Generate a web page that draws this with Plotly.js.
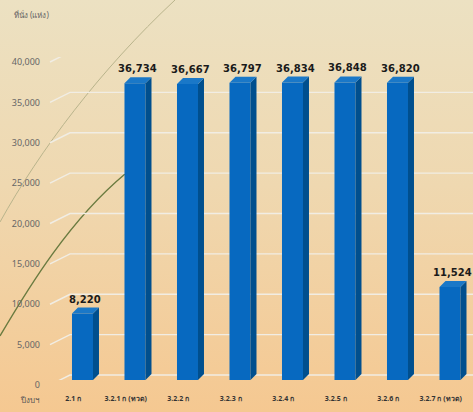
<!DOCTYPE html>
<html><head><meta charset="utf-8">
<script src="https://cdn.plot.ly/plotly-3.0.1.min.js"></script>
<style>
html,body{margin:0;padding:0;width:473px;height:412px;overflow:hidden;}
body{background:linear-gradient(to bottom,#ECE1C2 0%,#EFD8B0 45%,#F5C891 100%);position:relative;font-family:"Noto Sans",sans-serif;}
#deco{position:absolute;left:0;top:0;}
#chart{position:absolute;left:0;top:0;width:473px;height:412px;}
</style></head>
<body>
<svg id="deco" width="473" height="412">
  <path d="M0,222 C40,150 100,70 175,0" fill="none" stroke="#B9B48C" stroke-width="1"/>
  <path d="M0,336 C30,285 70,220 125,174" fill="none" stroke="#6A7B40" stroke-width="1.4"/>
</svg>
<div id="chart"></div>
<script>
// ---- data ----
const categories = ["2.1 ก", "3.2.1 ก (ทวด)", "3.2.2 ก", "3.2.3 ก", "3.2.4 ก", "3.2.5 ก", "3.2.6 ก", "3.2.7 ก (ทวด)"];
const values = [8220, 36734, 36667, 36797, 36834, 36848, 36820, 11524];
const yTicks = [0, 5000, 10000, 15000, 20000, 25000, 30000, 35000, 40000];
const yTitle = "ที่นั่ง (แห่ง)";
const xTitle = "ปีงบฯ";

// ---- styling/geometry ----
const W = 473, H = 412;
const mL = 47, mR = 6, mT = 57, mB = 32;
const plotW = W - mL - mR, plotH = H - mT - mB;
const yMax = 40000;
const catPx = plotW / categories.length;
const barOffset = -0.024, barWidth = 0.4;
const depthX = 6 / catPx;
const depthY = 6 * yMax / plotH;
const backY = 10 * yMax / plotH;
const lblDrop = 5 * yMax / plotH;

const xs = categories.map((c, i) => i);

const bars = {
  type: 'bar', x: xs, y: values, width: barWidth, offset: barOffset,
  marker: {color: '#0769C0', line: {width: 0}}, hoverinfo: 'skip'
};

const shapes = [];
yTicks.forEach(t => {
  shapes.push({
    type: 'path', xref: 'paper', yref: 'y', layer: 'below',
    path: `M ${3/plotW},${t - lblDrop} L ${23/plotW},${t + backY - lblDrop} L 1.02,${t + backY - lblDrop}`,
    line: {color: '#F1EDE4', width: 1.4}
  });
});
values.forEach((v, i) => {
  const xl = i + barOffset, xr = i + barOffset + barWidth;
  shapes.push({
    type: 'path', xref: 'x', yref: 'y', layer: 'above',
    path: `M ${xr},0 L ${xr+depthX},${depthY} L ${xr+depthX},${v+depthY} L ${xr},${v} Z`,
    fillcolor: '#004F8E', line: {width: 0}
  });
  shapes.push({
    type: 'path', xref: 'x', yref: 'y', layer: 'above',
    path: `M ${xl},${v} L ${xl+depthX},${v+depthY} L ${xr+depthX},${v+depthY} L ${xr},${v} Z`,
    fillcolor: '#1A78C8', line: {width: 0}
  });
});

const annotations = values.map((v, i) => ({
  x: i + barOffset + (barWidth + depthX) / 2, y: v + depthY, xref: 'x', yref: 'y',
  text: '<b>' + v.toLocaleString('en-US') + '</b>', showarrow: false,
  yanchor: 'bottom', yshift: 1,
  font: {family: 'DejaVu Sans', size: 10, color: '#1a1a1a'}
}));
annotations.push({
  xref: 'paper', yref: 'paper', x: -16/plotW, y: 1 + 43/plotH, xanchor: 'center', yanchor: 'middle',
  text: yTitle, showarrow: false, font: {family: 'Noto Sans', size: 8, color: '#666'}
});
annotations.push({
  xref: 'paper', yref: 'paper', x: -18/plotW, y: -19/plotH, xanchor: 'center', yanchor: 'middle',
  text: xTitle, showarrow: false, font: {family: 'Noto Sans', size: 8, color: '#555'}
});

const layout = {
  width: W, height: H,
  margin: {l: mL, r: mR, t: mT, b: mB, pad: 0},
  paper_bgcolor: 'rgba(0,0,0,0)', plot_bgcolor: 'rgba(0,0,0,0)',
  showlegend: false,
  xaxis: {
    type: 'linear', range: [-0.5, categories.length - 0.5],
    tickvals: xs, ticktext: categories.map(c => '<b>' + c + '</b>'), showgrid: false, zeroline: false,
    showline: false, ticks: '', tickangle: 0,
    tickfont: {family: 'Noto Sans', size: 7, color: '#333'}, ticklabelstandoff: 13
  },
  yaxis: {
    range: [0, yMax], tickvals: yTicks, tickformat: ',d',
    showgrid: false, zeroline: false, showline: false, ticks: '',
    tickfont: {family: 'Noto Sans', size: 9, color: '#666'},
    ticklabelshift: 5, ticklabelstandoff: 6
  },
  shapes: shapes, annotations: annotations
};

Plotly.newPlot('chart', [bars], layout, {displayModeBar: false, staticPlot: true});
</script>
</body></html>
